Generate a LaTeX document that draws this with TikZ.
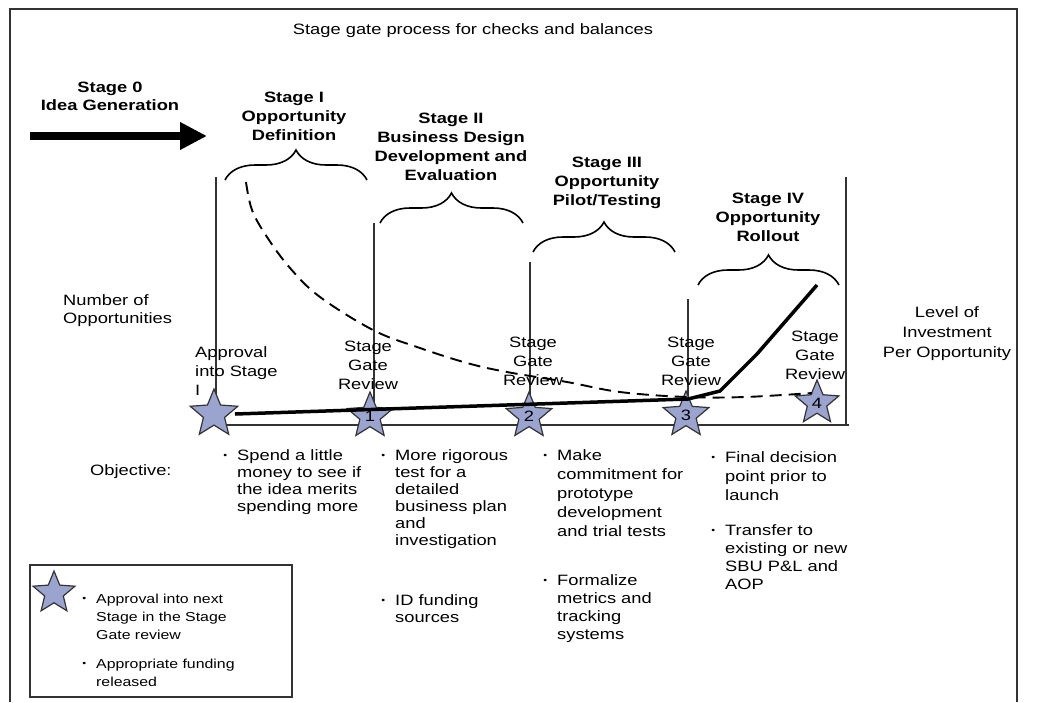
\documentclass[tikz,border=0pt]{standalone}
\usepackage{fontspec}
\setmainfont{Liberation Sans}[FakeStretch=1.22]
\usepackage{xcolor}
\usepackage{tikz}
\usetikzlibrary{arrows.meta, positioning, shapes.geometric, decorations.pathreplacing}

\definecolor{starfill}{RGB}{155,164,206}
\definecolor{linegray}{RGB}{51,51,51}
\newcommand{\objbullet}{\llap{\raisebox{2pt}{\fontsize{9}{9}\selectfont\textbullet}\hspace{10pt}}}

\begin{document}
\begin{tikzpicture}[
    x=1pt, y=-1pt,
    every node/.style={font=\fontsize{15}{18}\selectfont, inner sep=0pt},
    stagehead/.style={align=center, font=\fontsize{15}{19}\selectfont\bfseries},
    gatelabel/.style={align=center, font=\fontsize{15}{19}\selectfont},
    objtext/.style={align=left, anchor=north west, font=\fontsize{15}{17}\selectfont},
    gatestar/.style={star, star points=5, star point ratio=2.25, minimum size=48pt,
      draw=linegray, fill=starfill, line width=1.2pt, font=\fontsize{15}{15}\selectfont},
    gateline/.style={draw=linegray, line width=1.8pt},
    stagebrace/.style={decorate, decoration={brace, amplitude=30pt}, line width=1.6pt},
    >=Stealth
  ]
  \useasboundingbox (0,0) rectangle (1039,702);
  % frame and title
  \draw[line width=1.6pt, draw=linegray] (10,702) -- (10,9) -- (1017,9) -- (1017,702);
  \node (title) at (473,31) {Stage gate process for checks and balances};

  % stage headings
  \node[stagehead, font=\fontsize{15}{18}\selectfont\bfseries] (stzero) at (110,96) {Stage 0\\Idea Generation};
  \node[stagehead] (stone) at (294,116) {Stage I\\Opportunity\\Definition};
  \node[stagehead] (sttwo) at (451,147) {Stage II\\Business Design\\Development and\\Evaluation};
  \node[stagehead] (stthree) at (607,183) {Stage III\\Opportunity\\Pilot/Testing};
  \node[stagehead] (stfour) at (768,217) {Stage IV\\Opportunity\\Rollout};

  % stage 0 arrow
  \coordinate (arrtail) at (30,136);
  \coordinate (arrtip) at (207,136);
  \draw[line width=8pt, -{Triangle[length=27pt, width=26pt]}] (arrtail) -- (arrtip);

  % braces
  \draw[stagebrace] (225,180) -- (367,180);
  \draw[stagebrace] (380,223) -- (523,223);
  \draw[stagebrace] (533,252) -- (675,252);
  \draw[stagebrace] (698,285) -- (839,285);

  % axis and gate lines
  \coordinate (axstart) at (216,425);
  \coordinate (axend) at (849,425);
  \draw[gateline, line width=2.2pt] (axstart) -- (axend);
  \draw[gateline] (216,177) -- (216,425);
  \draw[gateline] (374,223) -- (374,425);
  \draw[gateline] (530,262) -- (530,425);
  \draw[gateline] (688,299) -- (688,425);
  \draw[gateline] (846,177) -- (846,425);

  % gate stars
  \node[gatestar, minimum size=50pt] (szero) at (214,414) {};
  \node[gatestar] (sone) at (370,416) {1};
  \node[gatestar] (stwo) at (529,416) {2};
  \node[gatestar] (sthree) at (686,415) {3};
  \node[gatestar, minimum size=46pt] (sfour) at (817,403) {4};

  % number of opportunities (dashed)
  \draw[line width=1.9pt, dash pattern=on 12pt off 7pt]
    plot[smooth, tension=0.6] coordinates {(246,182) (252,210) (267,237) (290,268) (320,297)
      (373,330) (417,347) (467,363) (507,372) (567,382) (620,392) (686,397) (745,397) (812,393)};

  % investment per opportunity (solid)
  \coordinate (invzero) at (235,414);
  \coordinate (invthree) at (688,399);
  \coordinate (invbend) at (720,391);
  \coordinate (invmid) at (757,354);
  \coordinate (invtop) at (817,285);
  \draw[line width=3.5pt, line join=round] (invzero) -- (invthree) -- (invbend) -- (invmid) -- (invtop);

  % gate labels
  \node[gatelabel, align=left, anchor=west] (gzero) at (195,371) {Approval\\into Stage\\I};
  \node[gatelabel] (gone) at (368,365) {Stage\\Gate\\Review};
  \node[gatelabel] (gtwo) at (533,361) {Stage\\Gate\\Review};
  \node[gatelabel] (gthree) at (691,361) {Stage\\Gate\\Review};
  \node[gatelabel] (gfour) at (815,355) {Stage\\Gate\\Review};

  % axis labels
  \node[align=left, anchor=west] (numopp) at (63,311) {Number of\\Opportunities};
  \node[align=center, font=\fontsize{15}{20}\selectfont] (levinv) at (947,334) {Level of\\Investment\\Per Opportunity};

  % objectives
  \node[anchor=west] (objective) at (90,472) {Objective:};
  \node[objtext] (objone) at (237,449) {\objbullet Spend a little\\money to see if\\the idea merits\\spending more};
  \node[objtext] (objtwoa) at (395,449) {\objbullet More rigorous\\test for a\\detailed\\business plan\\and\\investigation};
  \node[objtext] (objtwob) at (395,594) {\objbullet ID funding\\sources};
  \node[objtext, font=\fontsize{15}{19}\selectfont] (objthreea) at (557,449) {\objbullet Make\\commitment for\\prototype\\development\\and trial tests};
  \node[objtext, font=\fontsize{15}{18}\selectfont] (objthreeb) at (557,574) {\objbullet Formalize\\metrics and\\tracking\\systems};
  \node[objtext, font=\fontsize{15}{19}\selectfont] (objfoura) at (725,451) {\objbullet Final decision\\point prior to\\launch};
  \node[objtext, font=\fontsize{15}{18}\selectfont] (objfourb) at (725,524) {\objbullet Transfer to\\existing or new\\SBU P\&L and\\AOP};

  % legend
  \node[draw=linegray, line width=1.6pt, minimum width=262pt, minimum height=132pt] (legend) at (161,631) {};
  \node[gatestar, minimum size=44pt] (legstar) at (54,593) {};
  \node[objtext, font=\fontsize{13}{18}\selectfont] (legone) at (96,594) {\objbullet Approval into next\\Stage in the Stage\\Gate review};
  \node[objtext, font=\fontsize{13}{18}\selectfont] (legtwo) at (96,659) {\objbullet Appropriate funding\\released};
\end{tikzpicture}
\end{document}
